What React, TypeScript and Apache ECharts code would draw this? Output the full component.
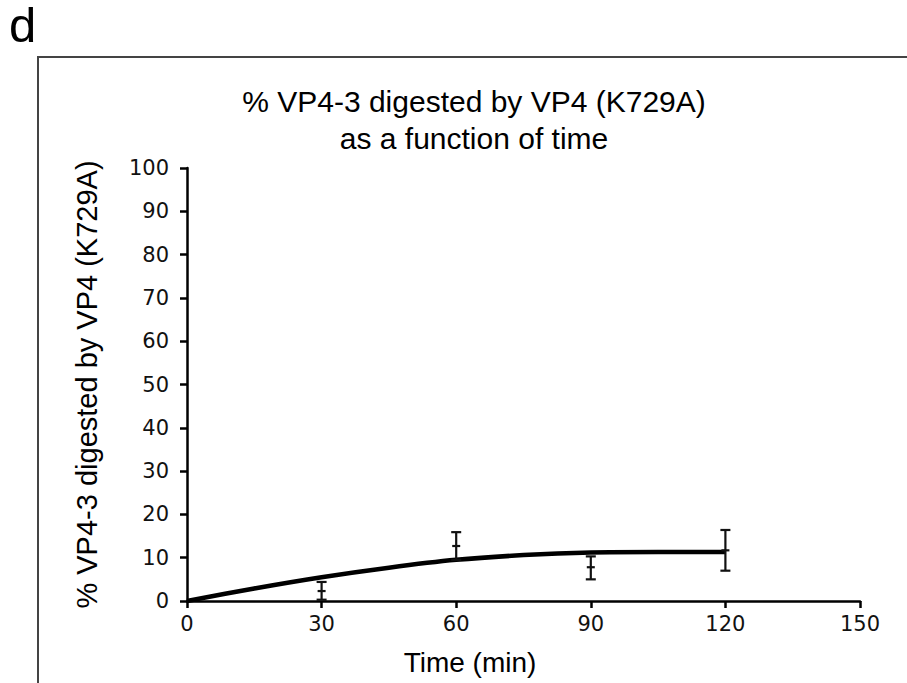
import React, { useEffect, useRef } from "react";
import * as echarts from "echarts";

const titleLines = ["% VP4-3 digested by VP4 (K729A)", "as a function of time"];
const yName = "% VP4-3 digested by VP4 (K729A)";
const xName = "Time (min)";
const panelLetter = "d";

// fitted curve
const fitX = [0, 15, 30, 45, 60, 75, 90, 105, 120];
const fitY = [0, 2.9, 5.5, 7.7, 9.5, 10.6, 11.2, 11.3, 11.3];

// measured points with error bars
const times = [30, 60, 90, 120];
const means = [2.3, 12.7, 7.8, 11.7];
const lower = [0.3, 9.5, 5.0, 7.0];
const upper = [4.4, 15.9, 10.3, 16.4];

const SANS = "'Liberation Sans', Arial, sans-serif";
const TICK = "'DejaVu Sans', Verdana, sans-serif";

export default function App() {
  const ref = useRef<HTMLDivElement>(null);
  useEffect(() => {
    if (!ref.current) return;
    const chart = echarts.init(ref.current, undefined, { renderer: "svg" });
    const errData = times.map((t, i) => [t, means[i], lower[i], upper[i]]);
    chart.setOption({
      animation: false,
      backgroundColor: "#fff",
      grid: { left: 187, top: 168, right: 47, bottom: 82 },
      graphic: [
        {
          type: "polyline",
          shape: { points: [[38, 683], [38, 57], [907, 57]] },
          style: { stroke: "#444", lineWidth: 2, fill: "none" },
        },
        {
          type: "text",
          x: 9,
          y: 45,
          style: {
            text: panelLetter,
            font: `49px ${SANS}`,
            fill: "#000",
            textAlign: "left",
            textVerticalAlign: "bottom",
            lineHeight: 40,
          },
        },
        {
          type: "text",
          x: 474,
          y: 101,
          style: {
            text: titleLines[0],
            font: `30px ${SANS}`,
            fill: "#000",
            textAlign: "center",
            textVerticalAlign: "middle",
          },
        },
        {
          type: "text",
          x: 474,
          y: 138,
          style: {
            text: titleLines[1],
            font: `30px ${SANS}`,
            fill: "#000",
            textAlign: "center",
            textVerticalAlign: "middle",
          },
        },
        {
          type: "text",
          x: 470,
          y: 662,
          style: {
            text: xName,
            font: `28px ${SANS}`,
            fill: "#000",
            textAlign: "center",
            textVerticalAlign: "middle",
          },
        },
      ],
      xAxis: {
        type: "value",
        min: 0,
        max: 150,
        interval: 30,
        axisLine: { show: true, onZero: false, lineStyle: { color: "#000", width: 2.5 } },
        axisTick: { show: true, inside: false, length: 7, lineStyle: { color: "#000", width: 2.5 } },
        axisLabel: { color: "#111", fontSize: 21, fontFamily: TICK, margin: 12 },
        splitLine: { show: false },
      },
      yAxis: {
        type: "value",
        min: 0,
        max: 100,
        interval: 10,
        name: yName,
        nameLocation: "middle",
        nameGap: 86,
        nameTextStyle: { color: "#000", fontSize: 29, fontFamily: SANS },
        axisLine: { show: true, lineStyle: { color: "#000", width: 2.5 } },
        axisTick: { show: true, inside: false, length: 7, lineStyle: { color: "#000", width: 2.5 } },
        axisLabel: { color: "#111", fontSize: 21, fontFamily: TICK, margin: 18 },
        splitLine: { show: false },
      },
      series: [
        {
          type: "line",
          data: fitX.map((x, i) => [x, fitY[i]]),
          smooth: 0.3,
          showSymbol: false,
          lineStyle: { color: "#000", width: 4.5 },
          z: 2,
        },
        {
          type: "custom",
          data: errData,
          z: 3,
          renderItem: (params: any, api: any) => {
            const x = api.value(0);
            const m = api.coord([x, api.value(1)]);
            const lo = api.coord([x, api.value(2)]);
            const hi = api.coord([x, api.value(3)]);
            const cap = 5;
            const st = { stroke: "#111", lineWidth: 2.2 };
            return {
              type: "group",
              children: [
                { type: "line", shape: { x1: lo[0], y1: lo[1], x2: hi[0], y2: hi[1] }, style: st },
                { type: "line", shape: { x1: lo[0] - cap, y1: lo[1], x2: lo[0] + cap, y2: lo[1] }, style: st },
                { type: "line", shape: { x1: hi[0] - cap, y1: hi[1], x2: hi[0] + cap, y2: hi[1] }, style: st },
                { type: "line", shape: { x1: m[0] - 4, y1: m[1], x2: m[0] + 4, y2: m[1] }, style: st },
              ],
            };
          },
        },
      ],
    });
    return () => chart.dispose();
  }, []);
  return <div ref={ref} style={{ width: 907, height: 683, position: "absolute", left: 0, top: 0 }} />;
}
